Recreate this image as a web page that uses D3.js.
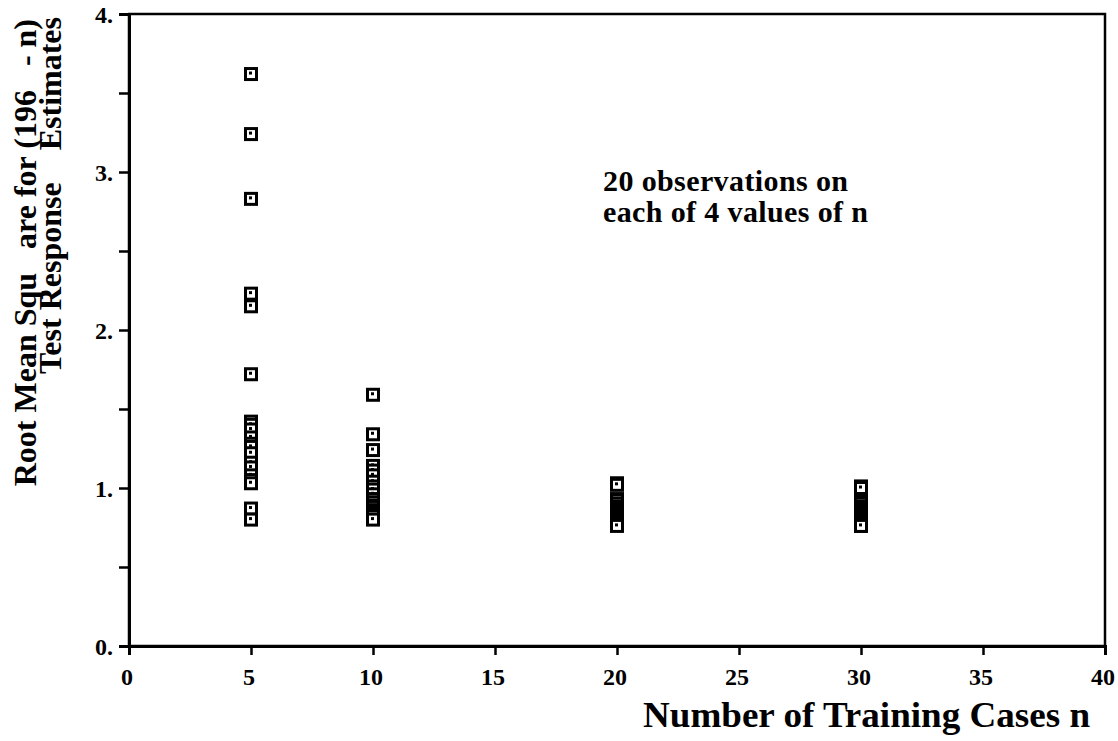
<!DOCTYPE html>
<html>
<head>
<meta charset="utf-8">
<script src="https://cdn.jsdelivr.net/npm/d3@7"></script>
<style>
  body { margin: 0; background: #fff; }
</style>
</head>
<body>
<svg id="chart" width="1118" height="741"></svg>
<script>
// training-set sizes
const nValues = [5, 10, 20, 30];
// 20 RMS error observations for each n
const rmsN5 = [3.62, 3.24, 2.83, 2.23, 2.15, 1.72, 1.42, 1.40, 1.37, 1.32,
               1.28, 1.26, 1.22, 1.16, 1.13, 1.08, 1.05, 1.03, 0.87, 0.80];
const rmsN10 = [1.59, 1.34, 1.24, 1.14, 1.11, 1.08, 1.04, 1.01, 0.99, 0.96,
                0.93, 0.91, 0.89, 0.88, 0.86, 0.85, 0.84, 0.83, 0.82, 0.80];
const rmsN20 = [1.03, 1.02, 0.93, 0.92, 0.90, 0.88, 0.87, 0.86, 0.85, 0.84,
                0.83, 0.82, 0.81, 0.80, 0.80, 0.79, 0.78, 0.78, 0.77, 0.76];
const rmsN30 = [1.01, 1.00, 0.92, 0.91, 0.90, 0.88, 0.87, 0.86, 0.85, 0.84,
                0.83, 0.83, 0.82, 0.81, 0.80, 0.79, 0.78, 0.77, 0.76, 0.76];
const xTicks = [0, 5, 10, 15, 20, 25, 30, 35, 40];
const yTicks = [0, 1, 2, 3, 4];
const yTickLabels = ["0.", "1.", "2.", "3.", "4."];

const FONT = "'Liberation Serif', 'Times New Roman', Times, 'DejaVu Serif', serif";

const svg = d3.select("#chart")
    .attr("font-family", FONT)
    .attr("font-weight", "bold");
const x = d3.scaleLinear().domain([0, 40]).range([129, 1105]);
const y = d3.scaleLinear().domain([0, 4]).range([646, 14]);

// frame
svg.append("rect")
    .attr("x", x(0)).attr("y", y(4))
    .attr("width", x(40) - x(0)).attr("height", y(0) - y(4))
    .attr("fill", "none").attr("stroke", "#000").attr("stroke-width", 2.5);

// axes
const xAxis = svg.append("g")
    .attr("transform", `translate(0,${y(0)})`)
    .call(d3.axisBottom(x).tickValues(d3.range(0, 41, 5)).tickSize(9).tickFormat(""));
const yAxis = svg.append("g")
    .attr("transform", `translate(${x(0)},0)`)
    .call(d3.axisLeft(y).tickValues(d3.range(0, 4.01, 0.5)).tickSize(10).tickFormat(""));
[xAxis, yAxis].forEach(g => {
    g.select(".domain").attr("stroke-width", 3);
    g.selectAll(".tick line").attr("stroke-width", 2.5);
});

svg.append("g").selectAll("text")
    .data(xTicks)
    .join("text")
    .attr("x", d => x(d) - 2)
    .attr("y", 685)
    .attr("text-anchor", "middle")
    .attr("font-size", 24)
    .text(d => d);

svg.append("g").selectAll("text")
    .data(yTicks)
    .join("text")
    .attr("x", 113)
    .attr("y", d => y(d) + 9)
    .attr("text-anchor", "end")
    .attr("font-size", 24)
    .text((d, i) => yTickLabels[i]);

// axis titles
svg.append("text")
    .attr("x", 643).attr("y", 727)
    .attr("font-size", 35)
    .attr("textLength", 447)
    .attr("lengthAdjust", "spacingAndGlyphs")
    .text("Number of Training Cases n");

svg.append("text")
    .attr("transform", "translate(36,19) rotate(-90)")
    .attr("text-anchor", "end")
    .attr("font-size", 32)
    .attr("xml:space", "preserve")
    .text("Root Mean Squ   are for (196   - n)");
svg.append("text")
    .attr("transform", "translate(61,17) rotate(-90)")
    .attr("text-anchor", "end")
    .attr("font-size", 32)
    .attr("xml:space", "preserve")
    .text("Test Response    Estimates");

// note
const note = svg.append("text").attr("font-size", 30);
note.append("tspan").attr("x", 603).attr("y", 191).attr("textLength", 245).text("20 observations on");
note.append("tspan").attr("x", 603).attr("y", 222).attr("textLength", 265).text("each of 4 values of n");

// points
const points = [];
[rmsN5, rmsN10, rmsN20, rmsN30].forEach((vals, i) => {
    vals.forEach(v => points.push({n: nValues[i], v: v}));
});

const marks = svg.append("g").selectAll("g")
    .data(points)
    .join("g")
    .attr("transform", d => `translate(${x(d.n)},${y(d.v)})`);
marks.append("rect")
    .attr("x", -5.5).attr("y", -5.5).attr("width", 11).attr("height", 11)
    .attr("fill", "#fff").attr("stroke", "#000").attr("stroke-width", 3);
marks.append("rect")
    .attr("x", -2).attr("y", -2.5).attr("width", 3).attr("height", 3)
    .attr("fill", "#000");
</script>
</body>
</html>
